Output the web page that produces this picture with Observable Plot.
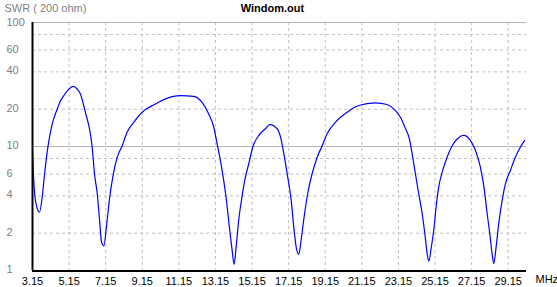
<!DOCTYPE html>
<html>
<head>
<meta charset="utf-8">
<script src="https://cdn.jsdelivr.net/npm/d3@7"></script>
<script src="https://cdn.jsdelivr.net/npm/@observablehq/plot@0.6"></script>
<style>
  html, body { margin: 0; padding: 0; background: #fff; }
  #chart { width: 557px; height: 287px; }
</style>
</head>
<body>
<div id="chart"></div>
<script>
const title = "Windom.out";
const yTitle = "SWR ( 200 ohm)";
const xUnit = "MHz";

const freqs = [3.15,3.20,3.28,3.40,3.53,3.68,3.81,3.99,4.23,4.50,4.68,4.86,5.10,5.37,5.59,5.77,5.92,6.05,6.28,6.41,6.54,6.69,6.83,6.92,7.05,7.19,7.36,7.56,7.78,8.05,8.32,8.69,9.14,9.87,10.42,11.24,11.96,12.42,12.78,13.06,13.24,13.42,13.60,13.75,13.91,14.06,14.17,14.28,14.42,14.57,14.75,14.97,15.19,15.52,15.88,16.12,16.52,16.70,16.92,17.10,17.29,17.43,17.56,17.70,17.83,17.97,18.19,18.43,18.71,18.98,19.25,19.71,20.35,20.98,21.89,22.53,22.99,23.26,23.53,23.75,23.90,24.08,24.26,24.45,24.59,24.72,24.81,24.95,25.08,25.21,25.35,25.57,25.81,26.08,26.36,26.72,27.08,27.36,27.63,27.85,28.00,28.14,28.27,28.36,28.49,28.63,28.82,29.00,29.27,29.54,29.82,30.05];
const swr = [9.3,5.9,4.0,3.2,2.95,3.9,6.0,9.9,15.2,20.0,23.4,25.7,28.6,30.5,29.1,26.5,22.3,18.6,13.5,9.9,6.0,4.16,2.39,1.70,1.58,2.24,3.8,5.9,8.2,10.1,13.0,15.7,18.9,22.0,24.2,25.7,25.4,22.7,18.3,14.3,10.5,7.7,5.33,3.68,2.24,1.46,1.12,1.55,2.54,3.68,5.33,7.26,9.9,12.3,13.9,15.0,13.9,12.0,8.2,5.66,3.68,2.24,1.55,1.35,1.75,2.54,4.16,6.0,8.2,10.1,12.65,15.7,18.9,21.4,22.5,21.8,19.5,17.2,14.0,11.5,8.74,6.0,4.16,2.87,2.0,1.37,1.19,1.55,2.11,3.25,4.7,6.41,8.2,10.1,11.5,12.3,11.2,9.29,6.82,4.43,2.87,2.0,1.37,1.14,1.55,2.39,3.68,5.01,6.41,8.2,9.9,11.2];

const xTicks = [3.15,5.15,7.15,9.15,11.15,13.15,15.15,17.15,19.15,21.15,23.15,25.15,27.15,29.15];
const yTickLabels = [100,60,40,20,10,6,4,2,1];
const yDashed = [80,60,40,20,8,6,4,2];
const ySolid = [10,100];

const data = freqs.map((f, i) => ({f, s: swr[i]}));
const yLabelOpts = {y: d => d, text: d => String(d), frameAnchor: "left", dx: -26, textAnchor: "start", fill: "#808080", fontSize: 11};

const plot = Plot.plot({
  width: 557,
  height: 287,
  marginLeft: 32,
  marginRight: 31,
  marginTop: 22,
  marginBottom: 17,
  style: {fontFamily: "'Liberation Sans', Arial, sans-serif", fontSize: "11px", background: "#fff", overflow: "visible"},
  x: {domain: [3.15, 30.15], axis: null},
  y: {type: "log", domain: [1, 100], axis: null},
  marks: [
    Plot.ruleY(yDashed, {stroke: "#c0c0c0", strokeDasharray: "3,3", strokeWidth: 1}),
    Plot.ruleX(xTicks.slice(1), {stroke: "#c0c0c0", strokeDasharray: "3,3", strokeWidth: 1}),
    Plot.ruleY(ySolid, {stroke: "#b4b4b4", strokeWidth: 1}),
    Plot.line(data, {x: "f", y: "s", stroke: "#0000ff", strokeWidth: 1.2, curve: "monotone-x"}),
    Plot.ruleX([3.15], {stroke: "#000", strokeWidth: 2}),
    Plot.ruleY([1], {stroke: "#000", strokeWidth: 2, dy: 0.5}),
    Plot.text(yTickLabels.filter(d => d !== 100), {...yLabelOpts, dy: -1}),
    Plot.text(yTickLabels.filter(d => d === 100), {...yLabelOpts, dy: 0}),
    Plot.axisX(xTicks, {tickSize: 0, tickPadding: 7, tickFormat: d => d.toFixed(2), fill: "#000", fontSize: 11, label: null}),
    Plot.text([xUnit], {frameAnchor: "bottom-right", dx: 9, dy: 12, textAnchor: "start", fill: "#000", fontSize: 11}),
    Plot.text([title], {frameAnchor: "top", dx: -7, dy: -18.5, lineAnchor: "top", fontWeight: "bold", fill: "#000", fontSize: 11}),
    Plot.text([yTitle], {frameAnchor: "top-left", dx: -28, dy: -18.5, lineAnchor: "top", textAnchor: "start", fill: "#808080", fontSize: 11})
  ]
});
document.getElementById("chart").appendChild(plot);
</script>
</body>
</html>
